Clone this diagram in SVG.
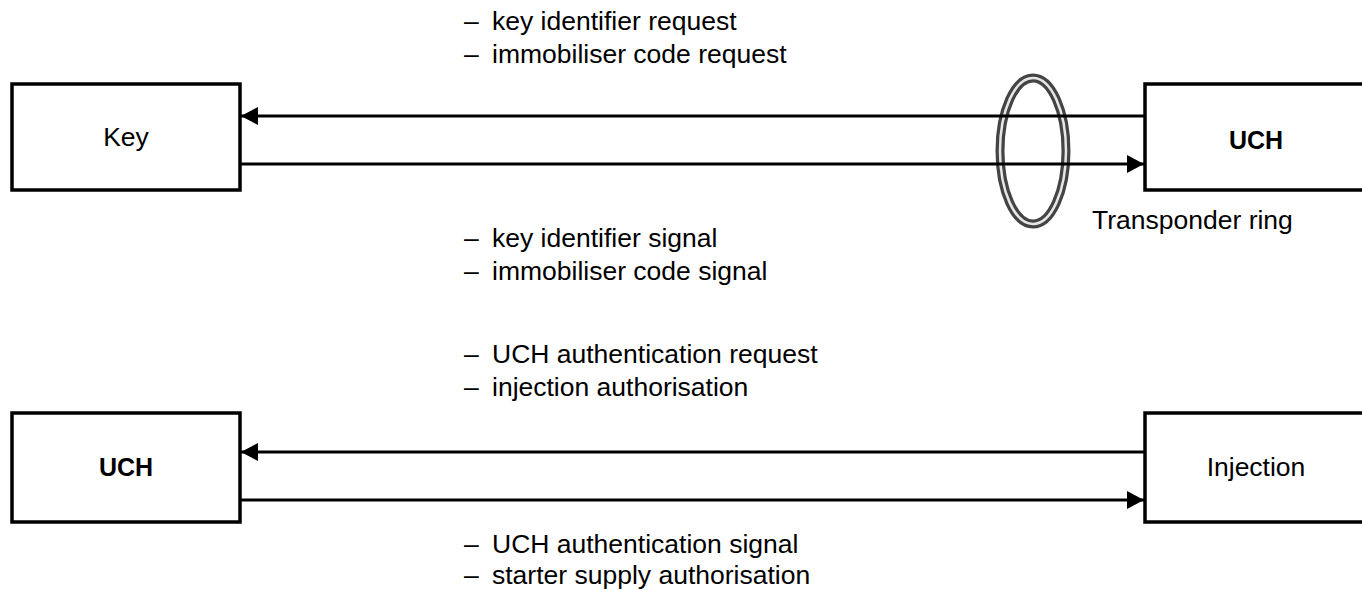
<svg xmlns="http://www.w3.org/2000/svg" width="1362" height="590" viewBox="0 0 1362 590">
<style>
.box{fill:#fff;stroke:#000;stroke-width:3.5}
.lbl{font-family:"Liberation Sans",Arial,sans-serif;font-size:26.5px;fill:#000}
.b{font-weight:bold;font-size:25px}
.c{stroke:#000;stroke-width:3;fill:none}
</style>
<defs>
<marker id="ah" markerWidth="17" markerHeight="18" viewBox="0 0 17 18" refX="17" refY="9" orient="auto" markerUnits="userSpaceOnUse">
<path d="M0,0 L17,9 L0,18 Z" fill="#000"/>
</marker>
</defs>
<g id="ring">
<ellipse cx="1033" cy="151" rx="33" ry="73" fill="none" stroke="#444" stroke-width="9"/>
<ellipse cx="1033" cy="151" rx="33" ry="73" fill="none" stroke="#e6e6e6" stroke-width="2.5"/>
</g>
<g id="key"><rect class="box" x="12" y="84" width="228" height="106"/><text class="lbl" x="126" y="146" text-anchor="middle">Key</text></g>
<g id="uch-top"><rect class="box" x="1145" y="84" width="230" height="106"/><text class="lbl b" x="1256" y="149" text-anchor="middle">UCH</text></g>
<g id="uch-bottom"><rect class="box" x="12" y="413" width="228" height="109"/><text class="lbl b" x="126" y="476" text-anchor="middle">UCH</text></g>
<g id="injection"><rect class="box" x="1145" y="413" width="230" height="109"/><text class="lbl" x="1256" y="476" text-anchor="middle">Injection</text></g>
<g id="connectors">
<line class="c" x1="1145" y1="116" x2="241" y2="116" marker-end="url(#ah)"/>
<line class="c" x1="240" y1="164" x2="1144" y2="164" marker-end="url(#ah)"/>
<line class="c" x1="1145" y1="452" x2="241" y2="452" marker-end="url(#ah)"/>
<line class="c" x1="240" y1="500" x2="1144" y2="500" marker-end="url(#ah)"/>
</g>
<g id="labels">
<text class="lbl" y="30"><tspan x="464">–</tspan><tspan x="492">key identifier request</tspan></text>
<text class="lbl" y="63"><tspan x="464">–</tspan><tspan x="492">immobiliser code request</tspan></text>
<text class="lbl" y="247"><tspan x="464">–</tspan><tspan x="492">key identifier signal</tspan></text>
<text class="lbl" y="280"><tspan x="464">–</tspan><tspan x="492">immobiliser code signal</tspan></text>
<text class="lbl" y="363"><tspan x="464">–</tspan><tspan x="492">UCH authentication request</tspan></text>
<text class="lbl" y="396"><tspan x="464">–</tspan><tspan x="492">injection authorisation</tspan></text>
<text class="lbl" y="553"><tspan x="464">–</tspan><tspan x="492">UCH authentication signal</tspan></text>
<text class="lbl" y="584"><tspan x="464">–</tspan><tspan x="492">starter supply authorisation</tspan></text>
<text class="lbl" x="1092" y="229">Transponder ring</text>
</g>
</svg>
